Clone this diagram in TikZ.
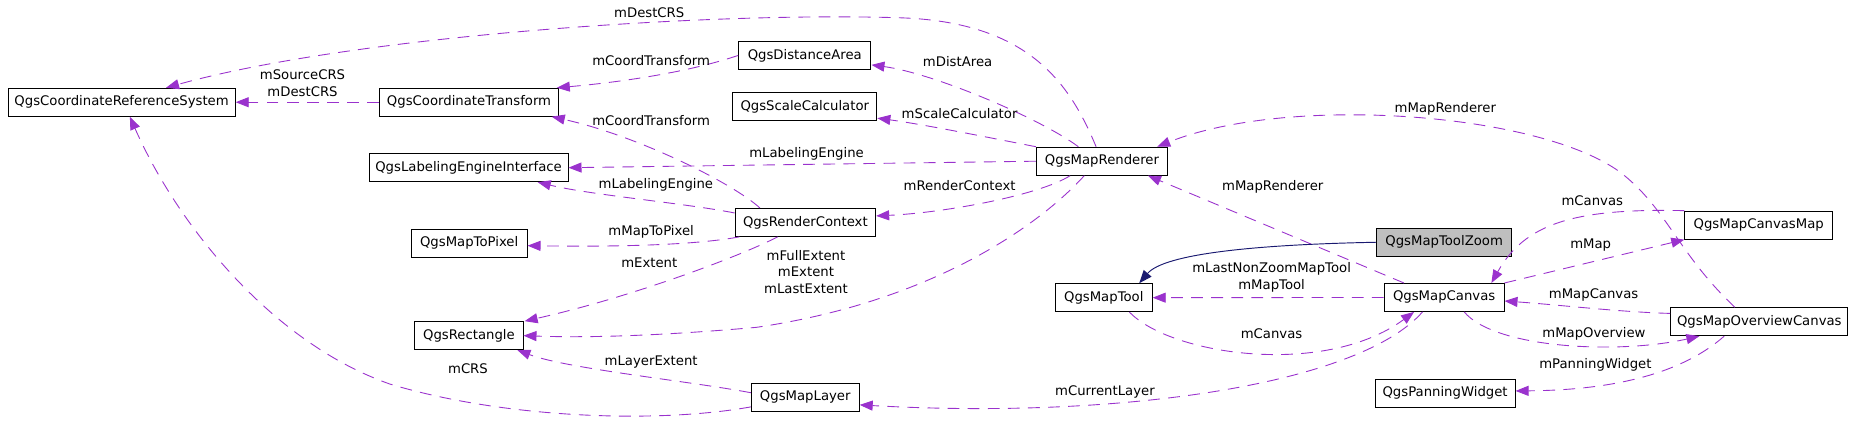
\documentclass[tikz,border=0pt]{standalone}
\usepackage{fontspec}
\setmainfont{DejaVu Sans}
\usetikzlibrary{arrows.meta,calc}
\definecolor{edgec}{HTML}{9A32CD}
\definecolor{inhc}{HTML}{191970}
\begin{document}
\begin{tikzpicture}[x=1pt,y=-1pt,
  cls/.style={draw=black,line width=0.8pt,fill=white,minimum height=23.7pt,inner sep=0pt,font=\fontsize{11.2}{13}\selectfont},
  lbl/.style={font=\fontsize{11.2}{14}\selectfont,align=center,inner sep=0pt},
  use/.style={draw=edgec,line width=0.75pt,dash pattern=on 10pt off 7pt,-{Triangle[length=11pt,width=8.5pt,fill=edgec]}},
  inh/.style={draw=inhc,line width=0.8pt,-{Triangle[length=11pt,width=8.5pt,fill=inhc]}}]
\useasboundingbox (0,0) rectangle (1568,368);
% classes
\node[cls,minimum width=192.3pt] (crs) at (102.9,86.5) {QgsCoordinateReferenceSystem};
\node[cls,minimum width=151.7pt] (ct) at (396.9,86.5) {QgsCoordinateTransform};
\node[cls,minimum width=112pt] (da) at (681,46.9) {QgsDistanceArea};
\node[cls,minimum width=122pt] (sc) at (681,90) {QgsScaleCalculator};
\node[cls,minimum width=168.3pt] (lei) at (396.5,141.9) {QgsLabelingEngineInterface};
\node[cls,minimum width=111pt] (mr) at (932.5,136.4) {QgsMapRenderer};
\node[cls,minimum width=119pt] (rc) at (681.5,188.2) {QgsRenderContext};
\node[cls,minimum width=98pt] (mtp) at (397,205.9) {QgsMapToPixel};
\node[cls,minimum width=91.5pt] (rect) at (396.8,284) {QgsRectangle};
\node[cls,minimum width=91.3pt] (ml) at (681.4,336.3) {QgsMapLayer};
\node[cls,minimum width=82pt] (mt) at (934,251.9) {QgsMapTool};
\node[cls,minimum width=114.8pt,fill={rgb,255:red,191;green,191;blue,191}] (mtz) at (1222,205) {QgsMapToolZoom};
\node[cls,minimum width=101.4pt] (mc) at (1222,251.7) {QgsMapCanvas};
\node[cls,minimum width=125.1pt] (mcm) at (1488.2,190.5) {QgsMapCanvasMap};
\node[cls,minimum width=150pt] (moc) at (1488.7,272.2) {QgsMapOverviewCanvas};
\node[cls,minimum width=118.5pt] (pw) at (1222.8,332.8) {QgsPanningWidget};
% edges
\draw[use] ($(mr.north)+(-5,0)$) .. controls (905,70) and (870,18) .. (760,15)
  .. controls (600,10) and (300,30) .. ($(crs.north)+(37.6,0)$);
\node[lbl] (l1) at (549.4,10.7) {mDestCRS};
\draw[use] (ct.west) -- (crs.east);
\node[lbl] (l2) at (256,70.2) {mSourceCRS\\mDestCRS};
\draw[use] ($(mr.north)+(-20,0)$) .. controls (880,100) and (790,62) .. ($(da.east)+(0,8)$);
\node[lbl] (l3) at (810.3,52.2) {mDistArea};
\draw[use] (mr.north west) .. controls (840,117) and (780,105) .. ($(sc.east)+(0,10)$);
\node[lbl] (l4) at (812,95.9) {mScaleCalculator};
\draw[use] (mr.west) -- (lei.east);
\node[lbl] (l5) at (682.5,130.6) {mLabelingEngine};
\draw[use] ($(mr.south)+(-27,0)$) .. controls (880,165) and (800,180) .. ($(rc.east)+(0,-5.5)$);
\node[lbl] (l6) at (812,157.4) {mRenderContext};
\draw[use] ($(mr.south)+(-15,0)$) .. controls (880,190) and (790,255) .. (640,277)
  .. controls (560,284) and (500,286) .. (rect.east);
\node[lbl] (l7) at (682,230) {mFullExtent\\mExtent\\mLastExtent};
\draw[use] ($(rc.north)+(-38.5,0)$) .. controls (620,155) and (540,115) .. ($(ct.south)+(70,0)$);
\node[lbl] (l8) at (551,102.4) {mCoordTransform};
\draw[use] (da.west) .. controls (580,62) and (520,70) .. ($(ct.north east)+(-2,0)$);
\node[lbl] (l9) at (551,51.6) {mCoordTransform};
\draw[use] ($(rc.west)+(0,-8)$) .. controls (580,172) and (500,165) .. ($(lei.south)+(58.5,0)$);
\node[lbl] (l10) at (555,156) {mLabelingEngine};
\draw[use] ($(rc.south west)+(4,0)$) .. controls (590,207) and (530,209) .. ($(mtp.east)+(0,2)$);
\node[lbl] (l11) at (551,196.6) {mMapToPixel};
\draw[use] ($(rc.south)+(-23.5,0)$) .. controls (630,215) and (540,250) .. ($(rect.north east)+(1,0)$);
\node[lbl] (l12) at (549.4,222) {mExtent};
\draw[use] ($(ml.west)+(0,-4)$) .. controls (580,322) and (480,312) .. ($(rect.south)+(41,0)$);
\node[lbl] (l13) at (551,306) {mLayerExtent};
\draw[use] ($(ml.west)+(0,8)$) .. controls (560,358) and (430,355) .. (330,325)
  .. controls (230,290) and (150,190) .. ($(crs.south)+(7,0)$);
\node[lbl] (l14) at (396,312) {mCRS};
\draw[use] ($(mc.north)+(-34,0)$) -- ($(mr.south east)+(-17,0)$);
\node[lbl] (l15) at (1077,158) {mMapRenderer};
\draw[use] ($(moc.north)+(-20.7,0)$) .. controls (1420,215) and (1410,175) .. (1370,145)
  .. controls (1300,95) and (1090,80) .. ($(mr.north)+(46.7,0)$);
\node[lbl] (l16) at (1223,91.7) {mMapRenderer};
\draw[use] (mcm.north west) .. controls (1330,176) and (1290,190) .. ($(mc.north)+(40,0)$);
\node[lbl] (l17) at (1347.4,169.8) {mCanvas};
\draw[use] (mc.north east) -- (mcm.south west);
\node[lbl] (l18) at (1346,207.3) {mMap};
\draw[use] ($(moc.west)+(0,-7)$) .. controls (1370,264) and (1320,258) .. ($(mc.east)+(0,3)$);
\node[lbl] (l19) at (1348.5,249.6) {mMapCanvas};
\draw[use] ($(mc.south)+(17,0)$) .. controls (1265,295) and (1370,300) .. ($(moc.south)+(-50.7,0)$);
\node[lbl] (l20) at (1348.8,282.6) {mMapOverview};
\draw[use] ($(moc.south)+(-29.7,0)$) .. controls (1430,310) and (1380,330) .. ($(pw.east)+(0,-2)$);
\node[lbl] (l21) at (1350,308.8) {mPanningWidget};
\draw[use] (mc.west) -- (mt.east);
\node[lbl] (l22) at (1076,234.7) {mLastNonZoomMapTool\\mMapTool};
\draw[use] ($(mt.south)+(21.8,0)$) .. controls (990,300) and (1120,320) .. ($(mc.south)+(-25.4,0)$);
\node[lbl] (l23) at (1076,282) {mCanvas};
\draw[use] ($(mc.south)+(-18.3,0)$) .. controls (1150,325) and (950,355) .. ($(ml.east)+(0,6.3)$);
\node[lbl] (l24) at (935,332) {mCurrentLayer};
\draw[inh] (mtz.west) .. controls (1060,207) and (985,215) .. ($(mt.north)+(30,0)$);
\end{tikzpicture}
\end{document}
